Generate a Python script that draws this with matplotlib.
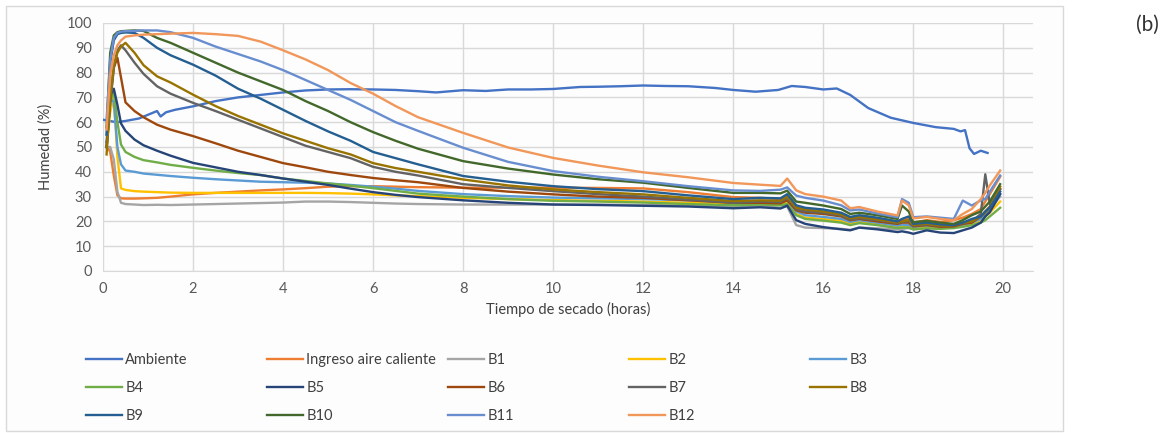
import matplotlib.pyplot as plt
import matplotlib.patches as patches

# drying time (h) shared by the probe series
time_h = [0.08, 0.16, 0.24, 0.32, 0.4, 0.5, 0.7, 0.9, 1.2, 1.5,
          2, 2.5, 3, 3.5, 4, 4.5, 5, 5.5, 6, 6.5,
          7, 8, 9, 10, 11, 12, 13, 14, 14.6, 15.05,
          15.2, 15.4, 15.6, 16, 16.4, 16.6, 16.8, 17.2, 17.65, 17.75,
          17.9, 18, 18.3, 18.6, 18.9, 19.1, 19.3, 19.5, 19.6, 19.7,
          19.93]

ambiente_t = [0, 0.3, 0.5, 0.8, 1.0, 1.2, 1.28, 1.4, 1.6, 2,
              2.5, 3, 3.5, 4, 4.5, 5, 5.5, 6, 6.5, 7,
              7.4, 8, 8.5, 9, 9.5, 10, 10.6, 11, 11.5, 12,
              12.5, 13, 13.6, 14, 14.5, 15, 15.3, 15.6, 16, 16.3,
              16.6, 17, 17.5, 18, 18.5, 18.9, 19.05, 19.15, 19.25, 19.35,
              19.5, 19.65]
ambiente = [61, 60, 60.5, 61.5, 63, 64.5, 62.3, 64, 65, 66.4,
            68.5, 70, 71, 72, 72.8, 73.2, 73.3, 73.2, 73, 72.5,
            72, 72.9, 72.6, 73.2, 73.2, 73.4, 74.2, 74.3, 74.5, 74.8,
            74.6, 74.5, 73.8, 73, 72.3, 73, 74.6, 74.2, 73.2, 73.6,
            71, 65.7, 61.8, 59.7, 58, 57.3, 56.3, 56.8, 49.5, 47.2,
            48.5, 47.6]

ingreso = [50.5, 48, 38.5, 30.5, 29.3, 29.2, 29.2, 29.3, 29.5, 30,
           30.9, 31.5, 32, 32.5, 32.9, 33.4, 34, 34.2, 34.2, 34,
           33.8, 33.6, 33.6, 33.6, 33.5, 33.3, 31.8, 29.8, 29.5, 29,
           30.5, 26, 24.5, 23.8, 22.8, 21.3, 22, 21.2, 20, 20.5,
           21, 19.5, 20.5, 19.8, 20.5, 21.5, 23, 25, 28, 31,
           38]
b1 = [50, 50, 45, 32, 27.5, 27, 26.8, 26.6, 26.7, 26.6,
      26.8, 27, 27.2, 27.4, 27.6, 28, 28, 27.8, 27.5, 27.2,
      27, 26.8, 26.8, 26.8, 26.8, 26.6, 26.4, 26, 26.3, 25.5,
      26, 18.5, 17.5, 17.3, 17, 16.6, 17.5, 17.2, 16.8, 17,
      17.3, 16.8, 17.3, 17.2, 17.8, 18.5, 19.5, 21.5, 23, 25,
      30]
b2 = [50, 64, 70, 46, 33.3, 32.7, 32.2, 32, 31.8, 31.6,
      31.5, 31.5, 31.5, 31.5, 31.5, 31.5, 31.4, 31.2, 30.9, 30.5,
      30.2, 29.5, 29, 28.6, 28.3, 28, 27.5, 27, 27.3, 27,
      27.8, 23, 21.5, 21, 20.2, 19.2, 19.8, 19, 17.8, 18,
      18, 17.3, 17.8, 17.3, 17.7, 18.3, 19, 20.5, 22, 23.5,
      28]
b3 = [55, 70, 68, 50, 43, 40.5, 40, 39.3, 38.8, 38.3,
      37.6, 37, 36.5, 36, 35.8, 35.6, 35.3, 34.7, 34, 33.2,
      32.3, 31, 30.2, 29.6, 29.3, 29, 28.5, 27.8, 28, 27.8,
      28.5, 24, 22.5, 21.8, 21, 19.8, 20.5, 19.5, 18.3, 18.7,
      18.5, 17.8, 18.3, 17.8, 18, 18.7, 19.5, 21, 23, 25,
      31]
b4 = [50, 68, 72.5, 60, 51, 48, 46, 44.7, 43.8, 42.8,
      41.6, 40.5, 39.5, 38.7, 37.3, 36.3, 35.3, 34.4, 33.4, 32.3,
      31.2, 30, 29, 28.3, 28, 27.6, 27, 26.5, 26.8, 26.5,
      27, 22.5, 21, 20.3, 19.5, 18.5, 19.3, 18.5, 17.3, 17.5,
      17.5, 16.8, 17.2, 17, 17.3, 17.8, 18.5, 19.5, 20.5, 22,
      25.5]
b5 = [52, 70.7, 73.5, 67, 59.5, 56.5, 53, 50.7, 48.5, 46.5,
      43.6, 41.8, 40, 38.7, 37.3, 36, 34.7, 33.2, 31.8, 30.7,
      29.8, 28.5, 27.5, 26.8, 26.6, 26.3, 26, 25.3, 25.7, 25.2,
      26.4, 20.5, 19, 17.7, 16.8, 16.4, 17.5, 16.8, 15.7, 16,
      15.5, 15, 16.4, 15.5, 15.3, 16.4, 17.5, 19.5, 22, 23.7,
      31]
b6 = [50, 68, 82, 86, 78, 68, 64.5, 62, 59, 57,
      54.4, 51.5, 48.5, 46, 43.5, 41.8, 40, 38.7, 37.5, 36.6,
      35.8, 33.5, 32, 30.9, 30, 29.5, 28.5, 27.5, 27.5, 27.3,
      28.5, 24.5, 23.5, 23, 22, 20.5, 21, 20, 19, 19.5,
      19.5, 18, 18.5, 17.8, 18, 19, 19.5, 22, 24, 26,
      33]
b7 = [50, 68, 82, 89, 91, 89, 84, 79.5, 74.5, 71.5,
      67.8, 64.5, 61, 57.5, 54, 50.5, 48, 45.5, 42, 40,
      38.5, 35, 33.5, 32.2, 31, 30, 28.8, 27.5, 28, 27.8,
      29.5, 25, 24, 23.5, 22.3, 20.8, 21.3, 20.5, 19.3, 19.8,
      20, 18.3, 18.8, 18.2, 18.5, 19.5, 20, 23, 39, 27,
      33]
b8 = [47, 70, 83, 88, 90.5, 92, 88, 83, 78.5, 76,
      71.1, 66.5, 62.5, 59, 55.5, 52.5, 49.5, 47, 43.5, 41.5,
      40, 36.9, 34.5, 32.9, 31.8, 30.9, 29.5, 28.2, 28.5, 28.3,
      30, 25.5, 24.8, 24, 22.8, 21.2, 21.8, 20.8, 19.5, 20,
      20.5, 18.5, 19, 18.3, 18.5, 19.5, 20, 22, 23.5, 25.5,
      34]
b9 = [55, 84, 93, 95.5, 96, 96.2, 96, 94, 90, 87,
      83.2, 78.8, 73.5, 69.5, 65, 60.5, 56.3, 52.5, 48, 45.5,
      43, 38.3, 36, 34.2, 33, 32.2, 30.5, 29, 29.5, 29.3,
      31, 26.5, 25.5, 24.8, 23.5, 21.8, 22.5, 21.5, 20, 21,
      22, 19, 19.5, 18.8, 18.5, 19.5, 21, 22, 24, 25.5,
      32]
b10 = [58, 88, 95, 96.3, 96.7, 96.8, 97, 96.8, 94, 92,
       88, 84, 80, 76.5, 73, 68.5, 64.5, 60, 56, 52.5,
       49.3, 44.3, 41.3, 38.9, 37, 35.6, 33.5, 31.5, 31.5, 31.3,
       32.4, 28, 27.5, 26.4, 25, 23, 23.5, 22.5, 21, 26.4,
       24, 19.7, 20.2, 19.5, 19, 20.5, 22.5, 24, 26, 28,
       35]
b11 = [61, 85, 94, 96, 96.5, 96.7, 96.8, 97, 97, 96.3,
       94, 90.5, 87.5, 84.5, 81, 77, 73, 69, 64.5, 60,
       56.5, 49.7, 44, 40.3, 38, 36.2, 34.2, 32.5, 32.3, 32.8,
       33.7, 30.4, 29.5, 28.4, 26.5, 24.4, 24.8, 23.2, 21.7, 29,
       27.5, 21.7, 22, 21.5, 21, 28.4, 26.4, 28.5, 29, 32,
       38.5]
b12 = [57, 79, 87, 91, 93, 94.5, 95, 95.3, 95.5, 95.7,
       96, 95.5, 94.8, 92.5, 89, 85.3, 81, 75.8, 71.5, 66.5,
       62, 55.7, 49.8, 45.6, 42.5, 39.8, 37.8, 35.5, 34.8, 34.3,
       37.3, 32.5, 31, 30, 28.4, 25.3, 25.8, 24, 22.4, 28.4,
       26.5, 21.2, 21.8, 21, 20.5, 23, 25, 29, 31.5, 34.5,
       40.5]

labels = ["Ambiente", "Ingreso aire caliente", "B1", "B2", "B3", "B4", "B5",
          "B6", "B7", "B8", "B9", "B10", "B11", "B12"]
colors = ["#4472C4", "#ED7D31", "#A5A5A5", "#FFC000", "#5B9BD5", "#70AD47",
          "#264478", "#9E480E", "#636363", "#997300", "#255E91", "#43682B",
          "#698ED0", "#F1975A"]
probes = [ingreso, b1, b2, b3, b4, b5, b6, b7, b8, b9, b10, b11, b12]

plt.rcParams["font.family"] = ["Lato", "DejaVu Sans"]
W, H = 1169, 433
fig = plt.figure(figsize=(W / 100, H / 100), dpi=100)

# chart frame, kept behind the axes
fig.patches.append(patches.Rectangle((6 / W, 1 - 431 / H), 1057 / W, 425 / H,
                                     transform=fig.transFigure, facecolor="#fdfdfd",
                                     edgecolor="#d9d9d9", lw=1, zorder=-5))

ax = fig.add_axes([103 / W, 1 - 271 / H, 930 / W, 248 / H])
ax.set_facecolor("none")

handles = []
h, = ax.plot(ambiente_t, ambiente, color=colors[0], lw=1.7, label=labels[0])
handles.append(h)
for vals, lab, col in zip(probes, labels[1:], colors[1:]):
    h, = ax.plot(time_h, vals, color=col, lw=1.7, label=lab)
    handles.append(h)

ax.set_xlim(0, 20.66)
ax.set_ylim(0, 100)
ax.set_xticks(range(0, 21, 2))
ax.set_yticks(range(0, 101, 10))
ax.grid(True, color="#d9d9d9", lw=1)
ax.set_axisbelow(True)
for s in ["top", "right", "left"]:
    ax.spines[s].set_visible(False)
ax.spines["bottom"].set_color("#d9d9d9")
ax.tick_params(length=0, labelsize=10.5, colors="#595959", pad=8)
ax.set_xlabel("Tiempo de secado (horas)", fontsize=10.5, color="#404040", labelpad=4)
ax.set_ylabel("Humedad (%)", fontsize=10.5, color="#404040", labelpad=10)

# legend laid out in Excel-like uniform columns
col_x = [86, 267, 448, 629, 810]
for c in range(5):
    idx = [r * 5 + c for r in range(3) if r * 5 + c < len(handles)]
    fig.legend([handles[i] for i in idx], [labels[i] for i in idx],
               loc="upper left", bbox_to_anchor=(col_x[c] / W, 1 - 353 / H),
               frameon=False, fontsize=10.5, borderpad=0, borderaxespad=0,
               handlelength=2.5, handletextpad=0.2, labelspacing=0.95,
               labelcolor="#404040")

fig.text(1147 / W, 1 - 25 / H, "(b)", fontsize=15, color="#333333",
         ha="center", va="center")

fig.savefig("out.png", dpi=100)
